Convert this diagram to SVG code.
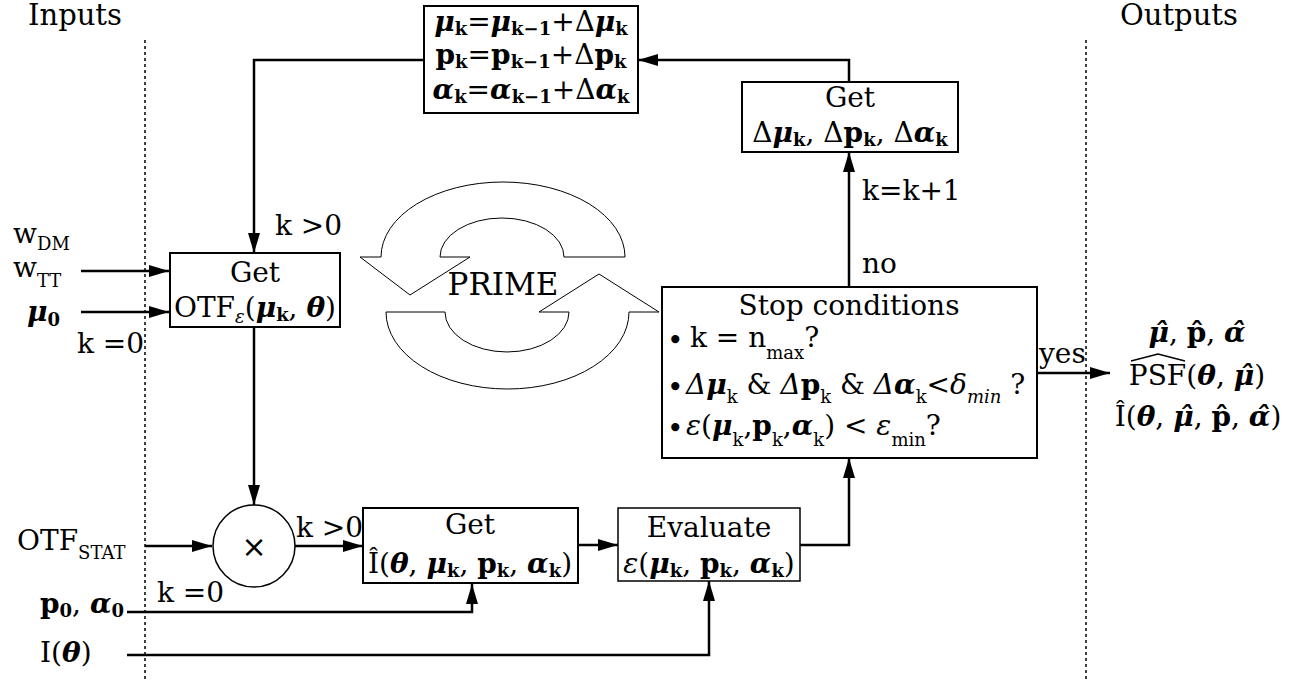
<svg xmlns="http://www.w3.org/2000/svg" width="1299" height="681" viewBox="0 0 1299 681">
<style>
text{font-family:"DejaVu Serif","Liberation Serif",serif;font-size:28px;fill:#000}
.c{text-anchor:middle}
.bi{font-weight:bold;font-style:italic}
.b{font-weight:bold}
.it{font-style:italic}
.s{font-size:18px}
.bs{font-size:18px;font-weight:bold}
.bul{font-size:28px}
.box{fill:#fff;stroke:#000;stroke-width:2}
.ln{fill:none;stroke:#000;stroke-width:2.5}
.dot{stroke:#000;stroke-width:1.5;stroke-dasharray:3 3}
.prime{fill:#fff;stroke:#000;stroke-width:1}
</style>
<defs>
<marker id="ah" markerUnits="userSpaceOnUse" markerWidth="20" markerHeight="12" refX="20" refY="6" orient="auto"><path d="M0,0 L20,6 L0,12 Z" fill="#000"/></marker>
</defs>
<g id="separators">
<line class="dot" x1="145" y1="40" x2="145" y2="681"/>
<line class="dot" x1="1086" y1="40" x2="1086" y2="681"/>
<text x="28" y="25" style="font-size:29px">Inputs</text>
<text x="1120" y="25" style="font-size:29px">Outputs</text>
</g>
<g id="connectors">
<path class="ln" d="M81,271 L169,271" marker-end="url(#ah)"/>
<path class="ln" d="M81,312 L169,312" marker-end="url(#ah)"/>
<path class="ln" d="M424,60 L254,60 L254,253" marker-end="url(#ah)"/>
<path class="ln" d="M254,327 L254,505" marker-end="url(#ah)"/>
<path class="ln" d="M145,546 L212,546" marker-end="url(#ah)"/>
<path class="ln" d="M294,546 L363,546" marker-end="url(#ah)"/>
<path class="ln" d="M127,612 L472,612 L472,584" marker-end="url(#ah)"/>
<path class="ln" d="M127,655 L709,655 L709,581" marker-end="url(#ah)"/>
<path class="ln" d="M578,545 L618,545" marker-end="url(#ah)"/>
<path class="ln" d="M800,545 L849,545 L849,458" marker-end="url(#ah)"/>
<path class="ln" d="M849,287 L849,152" marker-end="url(#ah)"/>
<path class="ln" d="M849,82 L849,60 L638,60" marker-end="url(#ah)"/>
<path class="ln" d="M1037,373 L1110,373" marker-end="url(#ah)"/>
<text x="275" y="235">k &gt;0</text>
<text x="77" y="353">k =0</text>
<text x="296" y="537">k &gt;0</text>
<text x="157" y="602">k =0</text>
<text x="862" y="200">k=k+1</text>
<text x="862" y="273">no</text>
<text x="1039" y="363">yes</text>
</g>
<g id="inputs">
<text x="13" y="243">w<tspan class="s" dy="7">DM</tspan></text>
<text x="13" y="277">w<tspan class="s" dy="10">TT</tspan></text>
<text x="27" y="321"><tspan class="bi">μ</tspan><tspan class="bs" dy="5">0</tspan></text>
<text x="17" y="550">OTF<tspan class="s" dy="9">STAT</tspan></text>
<text x="40" y="613"><tspan class="b">p</tspan><tspan class="bs" dy="4">0</tspan><tspan dy="-4">, </tspan><tspan class="bi">α</tspan><tspan class="bs" dy="4">0</tspan></text>
<text x="40" y="662">I(<tspan class="bi">θ</tspan>)</text>
</g>
<g id="update">
<rect class="box" x="424" y="6" width="214" height="107"/>
<text class="c" x="531" y="31"><tspan class="bi">μ</tspan><tspan class="bs" dy="4">k</tspan><tspan dy="-4">=</tspan><tspan class="bi">μ</tspan><tspan class="bs" dy="4">k−1</tspan><tspan dy="-4">+Δ</tspan><tspan class="bi">μ</tspan><tspan class="bs" dy="4">k</tspan></text>
<text class="c" x="531" y="64"><tspan class="b">p</tspan><tspan class="bs" dy="4">k</tspan><tspan dy="-4">=</tspan><tspan class="b">p</tspan><tspan class="bs" dy="4">k−1</tspan><tspan dy="-4">+Δ</tspan><tspan class="b">p</tspan><tspan class="bs" dy="4">k</tspan></text>
<text class="c" x="531" y="99"><tspan class="bi">α</tspan><tspan class="bs" dy="4">k</tspan><tspan dy="-4">=</tspan><tspan class="bi">α</tspan><tspan class="bs" dy="4">k−1</tspan><tspan dy="-4">+Δ</tspan><tspan class="bi">α</tspan><tspan class="bs" dy="4">k</tspan></text>
</g>
<g id="getdelta">
<rect class="box" x="742" y="82" width="216" height="70"/>
<text class="c" x="850" y="107">Get</text>
<text class="c" x="850" y="142">Δ<tspan class="bi">μ</tspan><tspan class="bs" dy="4">k</tspan><tspan dy="-4">, Δ</tspan><tspan class="b">p</tspan><tspan class="bs" dy="4">k</tspan><tspan dy="-4">, Δ</tspan><tspan class="bi">α</tspan><tspan class="bs" dy="4">k</tspan></text>
</g>
<g id="getotf">
<rect class="box" x="170" y="253" width="170" height="74"/>
<text class="c" x="255" y="282">Get</text>
<text class="c" x="255" y="317">OTF<tspan class="s it" dy="6">ε</tspan><tspan dy="-6">(</tspan><tspan class="bi">μ</tspan><tspan class="bs" dy="4">k</tspan><tspan dy="-4">, </tspan><tspan class="bi">θ</tspan>)</text>
</g>
<g id="prime">
<path class="prime" d="M360,257 L381,257 A122,75 0 0 1 625,257 L564,257 A62,39 0 0 0 440,257 L470,257 L410,295 Z"/>
<path class="prime" d="M386,312 L445,312 A62,40 0 0 0 569,312 L539,312 L599,274 L659,312 L629,312 A121.5,77 0 0 1 386,312 Z"/>
<text class="c" x="503" y="295" style="font-size:31px">PRIME</text>
</g>
<g id="stop">
<rect class="box" x="662" y="287" width="375" height="171"/>
<text class="c" x="849" y="315">Stop conditions</text>
<text class="bul" x="667" y="350">•</text>
<text x="690" y="347">k = n<tspan class="s" dy="12">max</tspan><tspan dy="-12">?</tspan></text>
<text class="bul" x="667" y="397">•</text>
<text x="686" y="394"><tspan class="it">Δ</tspan><tspan class="bi">μ</tspan><tspan class="s" dy="9">k</tspan><tspan dy="-9"> &amp; </tspan><tspan class="it">Δ</tspan><tspan class="b">p</tspan><tspan class="s" dy="9">k</tspan><tspan dy="-9"> &amp; </tspan><tspan class="it">Δ</tspan><tspan class="bi">α</tspan><tspan class="s" dy="9">k</tspan><tspan dy="-9">&lt;</tspan><tspan class="it">δ</tspan><tspan class="s it" dy="9">min</tspan><tspan dy="-9"> ?</tspan></text>
<text class="bul" x="667" y="438">•</text>
<text x="686" y="435"><tspan class="it">ε</tspan>(<tspan class="bi">μ</tspan><tspan class="s" dy="11">k</tspan><tspan dy="-11">,</tspan><tspan class="b">p</tspan><tspan class="s" dy="11">k</tspan><tspan dy="-11">,</tspan><tspan class="bi">α</tspan><tspan class="s" dy="11">k</tspan><tspan dy="-11">) &lt; </tspan><tspan class="it">ε</tspan><tspan class="s" dy="11">min</tspan><tspan dy="-11">?</tspan></text>
</g>
<g id="multiply">
<circle cx="254" cy="546" r="41" fill="#fff" stroke="#000" stroke-width="1.5"/>
<text class="c" x="254" y="557" style="font-family:'DejaVu Sans',sans-serif;font-size:30px">×</text>
</g>
<g id="getimage">
<rect class="box" x="363" y="508" width="215" height="75"/>
<text class="c" x="470" y="534">Get</text>
<text class="c" x="470" y="573">Î(<tspan class="bi">θ</tspan>, <tspan class="bi">μ</tspan><tspan class="bs" dy="4">k</tspan><tspan dy="-4">, </tspan><tspan class="b">p</tspan><tspan class="bs" dy="4">k</tspan><tspan dy="-4">, </tspan><tspan class="bi">α</tspan><tspan class="bs" dy="4">k</tspan><tspan dy="-4">)</tspan></text>
</g>
<g id="evaluate">
<rect class="box" x="618" y="508" width="182" height="73" style="stroke-width:1.5"/>
<text class="c" x="709" y="537">Evaluate</text>
<text class="c" x="709" y="573"><tspan class="it">ε</tspan>(<tspan class="bi">μ</tspan><tspan class="bs" dy="4">k</tspan><tspan dy="-4">, </tspan><tspan class="b">p</tspan><tspan class="bs" dy="4">k</tspan><tspan dy="-4">, </tspan><tspan class="bi">α</tspan><tspan class="bs" dy="4">k</tspan><tspan dy="-4">)</tspan></text>
</g>
<g id="outputs">
<text class="c" x="1197" y="342"><tspan class="bi">μ̂</tspan>, <tspan class="b">p̂</tspan>, <tspan class="bi">α̂</tspan></text>
<text class="c" x="1197" y="385">PSF(<tspan class="bi">θ</tspan>, <tspan class="bi">μ̂</tspan>)</text>
<polyline points="1131,361 1158,354 1185,361" fill="none" stroke="#000" stroke-width="1.3"/>
<text class="c" x="1198" y="426">Î(<tspan class="bi">θ</tspan>, <tspan class="bi">μ̂</tspan>, <tspan class="b">p̂</tspan>, <tspan class="bi">α̂</tspan>)</text>
</g>
</svg>
